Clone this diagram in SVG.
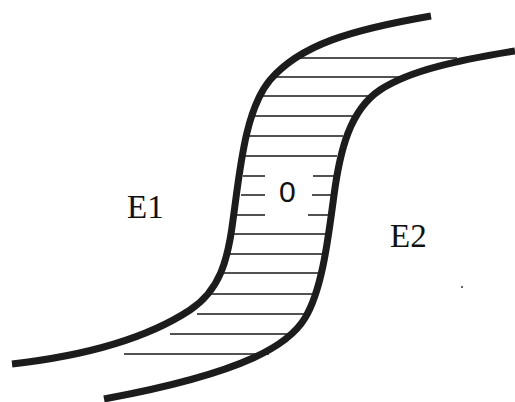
<svg xmlns="http://www.w3.org/2000/svg" width="515" height="402" viewBox="0 0 515 402">
<style>
.curve{fill:none;stroke:#1c1c1c;stroke-width:7;stroke-linecap:butt}
.hatch{stroke:#1a1a1a;stroke-width:1.3;fill:none}
</style>
<rect width="515" height="402" fill="#fff"/>
<g id="hatching">
<path class="hatch" d="M298,58H457M276,77H400M261,96H373M255,116H355M248,136H343M245,156H337M243,176H265M313,176H335M241,195H265M312,195H333M237,215H265M308,215H329M232,234H326M229,254H322M220,273H318M211,294H313M197,314H307M170,334H295M124,354H269"/>
</g>
<g id="connectors">
<path id="curve-E1" class="curve" d="M431,16 C350,30 300,45 270,80 C245,110 240,170 233,220 C228,260 220,290 190,310 C155,333 100,354 12,364"/>
<path id="curve-E2" class="curve" d="M515,51 C460,60 410,70 380,90 C350,110 340,150 334,195 C328,240 322,290 305,318 C290,343 250,372 104,399"/>
</g>
<g id="label-E1"><text x="127" y="218" font-family="Liberation Serif, Times New Roman, serif" font-size="33" fill="#111">E1</text></g>
<g id="label-E2"><text x="390" y="247" font-family="Liberation Serif, Times New Roman, serif" font-size="33" fill="#111">E2</text></g>
<g id="label-0"><text x="279" y="202" font-family="Liberation Sans, Arial, sans-serif" font-size="30" fill="#111">0</text></g>
<circle cx="462" cy="287" r="1" fill="#333"/>
</svg>
